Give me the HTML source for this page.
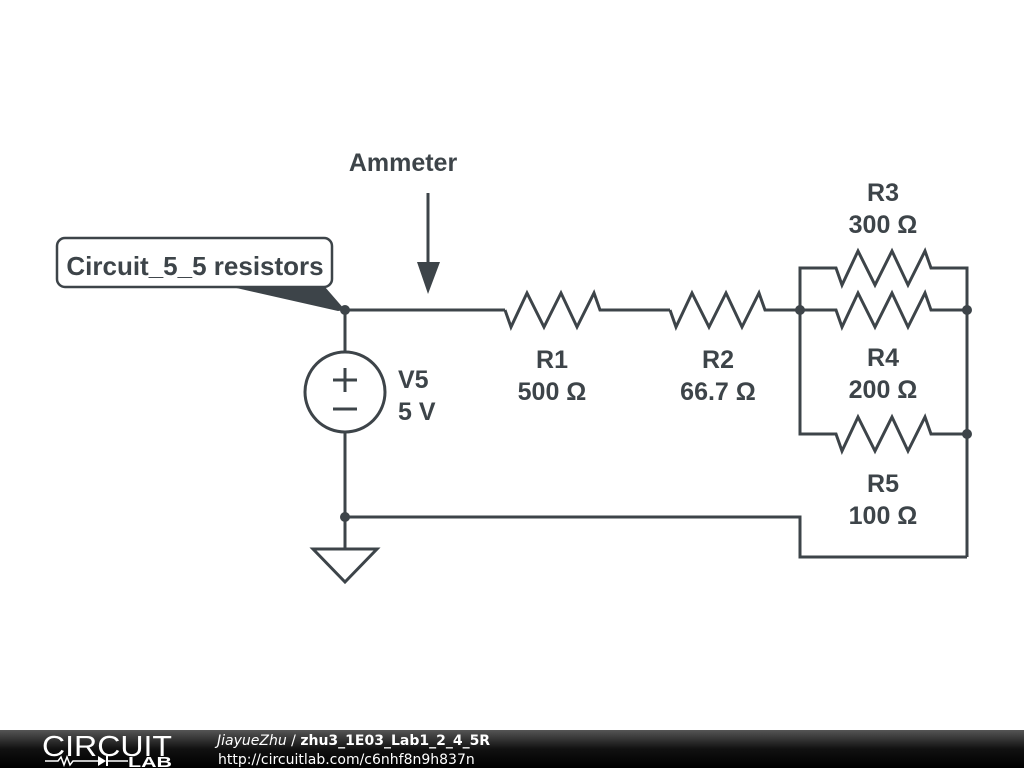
<!DOCTYPE html>
<html><head><meta charset="utf-8"><style>
body{margin:0;background:#fff;width:1024px;height:768px;overflow:hidden}
svg{display:block}
text{font-family:"Liberation Sans",Arial,sans-serif;font-weight:bold;fill:#3d4449}
</style></head><body>
<svg width="1024" height="768" viewBox="0 0 1024 768">
<g stroke="#3d4449" stroke-width="3" fill="none" stroke-linejoin="miter">
<polyline points="345,310 505,310"/>
<polyline points="505,310 511,327 527,293 544,327 561,293 577,327 594,293 600,310 670,310"/>
<polyline points="670,310 676,327 692,293 709,327 726,293 742,327 759,293 765,310 800,310"/>
<polyline points="800,310 836,310 842,327 858,293 875,327 892,293 908,327 925,293 931,310 967,310"/>
<polyline points="800,310 800,268 836,268 842,285 858,251 875,285 892,251 908,285 925,251 931,268 967,268 967,557"/>
<polyline points="800,310 800,434 836,434 842,451 858,417 875,451 892,417 908,451 925,417 931,434 967,434"/>
<polyline points="345,517 800,517 800,557 967,557"/>
<line x1="345" y1="310" x2="345" y2="352"/>
<circle cx="345" cy="392" r="40"/>
<line x1="345" y1="432" x2="345" y2="548"/>
<line x1="333" y1="380" x2="357" y2="380"/><line x1="345" y1="368" x2="345" y2="392"/>
<line x1="333" y1="409" x2="357" y2="409"/>
<polygon points="313,549 377,549 345,582"/>
<line x1="428" y1="193" x2="428" y2="264"/>
<rect x="57" y="238" width="275" height="49" rx="8" fill="#fff" stroke-width="2.5"/>
</g>
<polygon points="417,262 440,262 428,294" fill="#3d4449"/>
<polygon points="232,287 325,287 345,310 338,311" fill="#3d4449"/>
<g fill="#3d4449">
<circle cx="345" cy="310" r="5"/><circle cx="345" cy="517" r="5"/>
<circle cx="800" cy="310" r="5"/><circle cx="967" cy="310" r="5"/><circle cx="967" cy="434" r="5"/>
</g>
<g font-size="25">
<text x="195" y="275" text-anchor="middle" font-size="26">Circuit_5_5 resistors</text>
<text x="403" y="171" text-anchor="middle">Ammeter</text>
<text x="398" y="388">V5</text><text x="398" y="420">5 V</text>
<text x="552" y="368" text-anchor="middle">R1</text><text x="552" y="400" text-anchor="middle">500 Ω</text>
<text x="718" y="368" text-anchor="middle">R2</text><text x="718" y="400" text-anchor="middle">66.7 Ω</text>
<text x="883" y="201" text-anchor="middle">R3</text><text x="883" y="233" text-anchor="middle">300 Ω</text>
<text x="883" y="366" text-anchor="middle">R4</text><text x="883" y="398" text-anchor="middle">200 Ω</text>
<text x="883" y="492" text-anchor="middle">R5</text><text x="883" y="524" text-anchor="middle">100 Ω</text>
</g>
<defs><linearGradient id="fg" x1="0" y1="0" x2="0" y2="1"><stop offset="0" stop-color="#555"/><stop offset="0.5" stop-color="#111"/><stop offset="1" stop-color="#000"/></linearGradient></defs>
<rect x="0" y="730" width="1024" height="38" fill="url(#fg)"/>
<text x="42" y="756" font-size="29" textLength="130" lengthAdjust="spacingAndGlyphs" style="fill:#fff;font-weight:normal">CIRCUIT</text>
<polyline points="45,761 58,761 61,757 64,765 67,757 70,765 73,761 98,761" stroke="#fff" stroke-width="1.5" fill="none"/>
<polygon points="98,756 98,766 106,761" fill="#fff"/><line x1="107" y1="756" x2="107" y2="766" stroke="#fff" stroke-width="2"/>
<line x1="107" y1="761" x2="128" y2="761" stroke="#fff" stroke-width="1.5"/>
<text x="128" y="767" font-size="15" textLength="44" lengthAdjust="spacingAndGlyphs" style="fill:#fff">LAB</text>
<text x="217" y="745" font-size="14" style="fill:#fff;font-family:'DejaVu Sans',sans-serif"><tspan font-style="italic" font-weight="normal">JiayueZhu</tspan><tspan font-weight="normal"> / </tspan>zhu3_1E03_Lab1_2_4_5R</text>
<text x="218" y="764" font-size="14" style="fill:#fff;font-weight:normal;font-family:'DejaVu Sans',sans-serif">http://circuitlab.com/c6nhf8n9h837n</text>
</svg>
</body></html>
